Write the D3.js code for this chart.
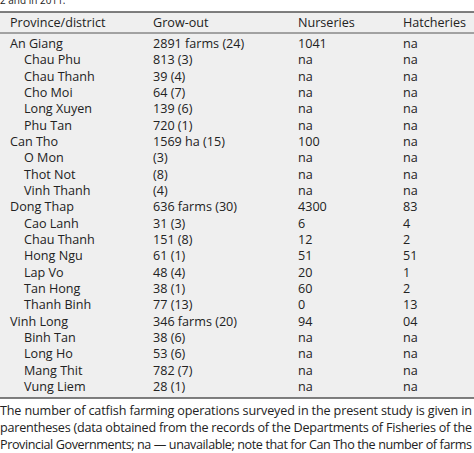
<!DOCTYPE html>
<html><head><meta charset="utf-8">
<script src="https://cdn.jsdelivr.net/npm/d3@7.9.0/dist/d3.min.js"></script>
<style>body{margin:0;background:#fff}svg{display:block}</style>
</head><body>
<script>
const headers = ['Province/district', 'Grow-out', 'Nurseries', 'Hatcheries'];
const names = ['An Giang', 'Chau Phu', 'Chau Thanh', 'Cho Moi', 'Long Xuyen', 'Phu Tan', 'Can Tho', 'O Mon', 'Thot Not', 'Vinh Thanh',
  'Dong Thap', 'Cao Lanh', 'Chau Thanh', 'Hong Ngu', 'Lap Vo', 'Tan Hong', 'Thanh Binh', 'Vinh Long', 'Binh Tan', 'Long Ho', 'Mang Thit', 'Vung Liem'];
const isProvince = [1,0,0,0,0,0,1,0,0,0,1,0,0,0,0,0,0,1,0,0,0,0];
const growOut = ['2891 farms (24)', '813 (3)', '39 (4)', '64 (7)', '139 (6)', '720 (1)', '1569 ha (15)', '(3)', '(8)', '(4)',
  '636 farms (30)', '31 (3)', '151 (8)', '61 (1)', '48 (4)', '38 (1)', '77 (13)', '346 farms (20)', '38 (6)', '53 (6)', '782 (7)', '28 (1)'];
const nurseries = ['1041', 'na', 'na', 'na', 'na', 'na', '100', 'na', 'na', 'na', '4300', '6', '12', '51', '20', '60', '0', '94', 'na', 'na', 'na', 'na'];
const hatcheries = ['na', 'na', 'na', 'na', 'na', 'na', 'na', 'na', 'na', 'na', '83', '4', '2', '51', '1', '2', '13', '04', 'na', 'na', 'na', 'na'];
const footnote = ['The number of catfish farming operations surveyed in the present study is given in',
  'parentheses (data obtained from the records of the Departments of Fisheries of the',
  'Provincial Governments; na \u2014 unavailable; note that for Can Tho the number of farms'];

const W = 474, H = 453;
const svg = d3.select('body').append('svg').attr('width', W).attr('height', H)
  .style('font-family', 'Open Sans, sans-serif').style('font-size', '12.6px').attr('fill', '#222');

const colPos = [10, 153, 298, 403];
const y = d3.scaleLinear().domain([0, names.length - 1]).range([48, 391]);

svg.append('rect').attr('x', 0).attr('y', 12).attr('width', W).attr('height', 386).attr('fill', '#efefef');
svg.append('text').attr('x', 0).attr('y', 4).style('font-size', '10px').text('2 and in 2011.');
svg.append('line').attr('x1', 0).attr('x2', W).attr('y1', 12).attr('y2', 12).attr('stroke', '#555').attr('stroke-width', 1.5);
svg.append('line').attr('x1', 0).attr('x2', W).attr('y1', 33).attr('y2', 33).attr('stroke', '#555').attr('stroke-width', 1);
svg.append('line').attr('x1', 0).attr('x2', W).attr('y1', 398).attr('y2', 398).attr('stroke', '#555').attr('stroke-width', 1.5);

svg.selectAll('.h').data(headers).join('text')
  .attr('x', (d, i) => colPos[i]).attr('y', 27).text(d => d);

const rows = svg.selectAll('.row').data(names).join('g')
  .attr('transform', (d, i) => `translate(0,${y(i)})`);
rows.append('text').attr('x', (d, i) => isProvince[i] ? colPos[0] : colPos[0] + 14).text(d => d);
rows.append('text').attr('x', colPos[1]).text((d, i) => growOut[i]);
rows.append('text').attr('x', colPos[2]).text((d, i) => nurseries[i]);
rows.append('text').attr('x', colPos[3]).text((d, i) => hatcheries[i]);

svg.selectAll('.f').data(footnote).join('text')
  .attr('x', 0).attr('y', (d, i) => 415 + i * 17)
  .attr('textLength', W - 2).attr('lengthAdjust', 'spacing').text(d => d);
</script>
</body></html>
